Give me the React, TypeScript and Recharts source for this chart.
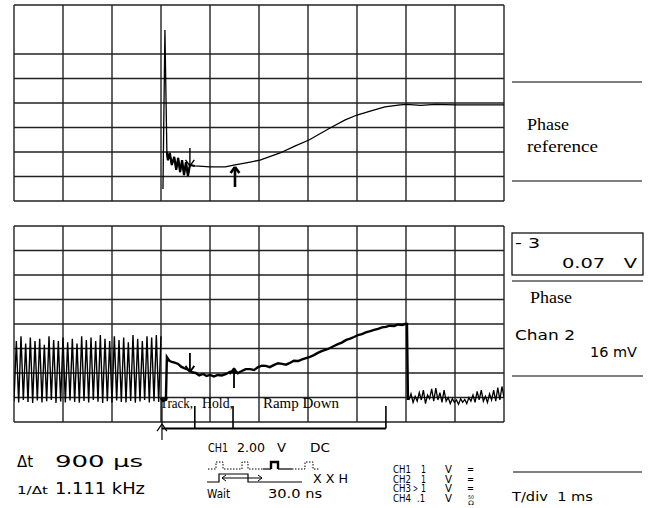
import { CartesianGrid, Line, LineChart, ReferenceLine, XAxis, YAxis } from 'recharts';

// time axis in divisions (0..10), amplitude in divisions (0..8)
const divX = [0, 1, 2, 3, 4, 5, 6, 7, 8, 9, 10];
const divY = [0, 1, 2, 3, 4, 5, 6, 7, 8];

// upper trace (phase reference)
const topT = [3.04, 3.08, 3.12, 3.14, 3.18, 3.22, 3.27, 3.31, 3.35, 3.39, 3.43, 3.47, 3.51, 3.55, 3.59, 3.69, 4.0, 4.31, 4.51, 4.82, 5.02, 5.43, 5.73, 6.02, 6.45, 6.76, 7.0, 7.27, 7.57, 7.88, 8.02, 8.3, 8.6, 9.0, 9.5, 10];
const topV = [0.49, 6.98, 2.0, 1.67, 1.96, 1.47, 1.8, 1.27, 1.76, 1.18, 1.67, 1.06, 1.59, 1.02, 1.47, 1.43, 1.39, 1.39, 1.47, 1.59, 1.67, 1.96, 2.24, 2.49, 2.98, 3.31, 3.51, 3.67, 3.84, 3.92, 3.94, 3.9, 3.94, 3.92, 3.92, 3.92];

// lower trace: oscillation before track
const sawHigh = [3.3, 3.5, 3.2, 3.45, 3.3, 3.4, 3.15, 3.5, 3.35, 3.3, 3.45, 3.25, 3.4, 3.2, 3.5, 3.35, 3.45, 3.3, 3.55, 3.4, 3.3, 3.5, 3.35, 3.45, 3.25, 3.55, 3.4, 3.3, 3.5, 3.45, 3.55, 3.5];
const sawLow = [0.85, 0.8, 0.9, 0.82, 0.78, 0.88, 0.8, 0.85, 0.9, 0.78, 0.84, 0.8, 0.88, 0.82, 0.79, 0.86, 0.8, 0.9, 0.83, 0.78, 0.85, 0.8, 0.88, 0.82, 0.8, 0.86, 0.79, 0.84, 0.9, 0.8, 0.85, 0.82];
const sawEnd = 3.0;

// lower trace: track / hold / ramp
const rampT = [3.0, 3.04, 3.1, 3.12, 3.17, 3.22, 3.28, 3.35, 3.41, 3.47, 3.53, 3.59, 3.65, 3.71, 3.78, 3.86, 3.93, 4.0, 4.08, 4.16, 4.24, 4.33, 4.41, 4.49, 4.57, 4.65, 4.73, 4.82, 4.9, 4.98, 5.06, 5.14, 5.22, 5.31, 5.39, 5.47, 5.55, 5.63, 5.71, 5.8, 5.88, 5.96, 6.04, 6.12, 6.2, 6.29, 6.37, 6.45, 6.53, 6.61, 6.69, 6.78, 6.86, 6.94, 7.02, 7.1, 7.18, 7.27, 7.35, 7.43, 7.51, 7.59, 7.67, 7.76, 7.84, 7.92, 7.98, 8.02, 8.04];
const rampV = [0.98, 0.86, 0.9, 2.65, 2.5, 2.45, 2.42, 2.37, 2.26, 2.2, 2.16, 2.08, 2.02, 2.0, 1.9, 1.96, 1.88, 1.92, 1.86, 1.92, 1.9, 1.96, 2.05, 2.04, 2.0, 2.08, 2.16, 2.16, 2.12, 2.24, 2.3, 2.29, 2.24, 2.33, 2.4, 2.37, 2.34, 2.41, 2.5, 2.49, 2.56, 2.61, 2.66, 2.73, 2.82, 2.9, 2.95, 3.02, 3.1, 3.18, 3.24, 3.35, 3.4, 3.47, 3.55, 3.59, 3.66, 3.71, 3.76, 3.8, 3.86, 3.88, 3.93, 3.92, 3.98, 3.96, 4.0, 4.0, 0.9];

// lower trace: noise after ramp down
const tailV = [0.9, 1.15, 0.8, 1.05, 0.85, 1.2, 0.9, 1.3, 0.75, 1.1, 0.95, 1.35, 0.85, 1.38, 0.9, 1.2, 0.8, 1.3, 0.85, 1.0, 0.75, 0.95, 0.8, 0.9, 0.72, 0.95, 0.8, 0.92, 0.75, 1.0, 0.85, 1.1, 0.8, 1.25, 0.9, 1.3, 0.85, 1.05, 0.8, 1.15, 0.9, 1.3, 0.85, 1.4, 0.9, 1.45, 1.0];
const tailStart = 8.06;

// markers: [time, from, to]
const topMarks = [[3.59, 2.16, 1.43], [4.51, 0.57, 1.39]];
const lowMarks = [[3.59, 2.82, 2.04], [4.49, 1.39, 2.2]];
// bracket ticks under the lower screen
const bracketT = [3.69, 4.47, 7.59];
const bracketStart = 3.02;

const chRows = [
    { ch: 'CH1', sel: '', val: '1', cpl: '=' },
    { ch: 'CH2', sel: '', val: '1', cpl: '=' },
    { ch: 'CH3', sel: '>', val: '1', cpl: '=' },
    { ch: 'CH4', sel: '', val: '.1', cpl: '' },
];

const topData = topT.map((t, i) => ({ t, v: topV[i] }));
const topNoise = topData.slice(2, 16);
const sawData = sawHigh.flatMap((h, i) => [sawLow[i], h]).map((v, i, arr) => ({ t: (i * sawEnd) / (arr.length - 1), v }));
const rampData = rampT.map((t, i) => ({ t, v: rampV[i] }));
const tailData = tailV.map((v, i) => ({ t: tailStart + (i * (10 - tailStart)) / (tailV.length - 1), v }));

const sans = '"DejaVu Sans", sans-serif';
const serif = '"Liberation Serif", "Times New Roman", serif';
const ink = '#000';

const seg = (x1: number, y1: number, x2: number, y2: number, w: number, key: string) => (
    <ReferenceLine key={key} segment={[{ x: x1, y: y1 }, { x: x2, y: y2 }]} stroke={ink} strokeWidth={w} ifOverflow="visible" />
);

const arrow = (m: number[], w: number, key: string) => {
    const [t, from, to] = m;
    const dir = to > from ? -1 : 1;
    return [
        seg(t, from, t, to, w, key + 's'),
        seg(t - 0.09, to + dir * 0.25, t, to, w, key + 'a'),
        seg(t + 0.09, to + dir * 0.25, t, to, w, key + 'b'),
    ];
};

// scope-style label squeezed to the width it has on screen
const T = ({ x, y, w, s, children }: { x: number; y: number; w: number; s: number; children: any }) => (
    <text x={x} y={y} fontSize={s} textLength={w} lengthAdjust="spacingAndGlyphs" style={{ whiteSpace: 'pre' }}>
        {children}
    </text>
);

const Screen = ({ top, children }: { top: number; children: any }) => (
    <LineChart width={648} height={508} margin={{ top, left: 14, right: 144, bottom: 508 - top - 196 }} style={{ position: 'absolute', left: 0, top: 0 }}>
        <XAxis type="number" dataKey="t" domain={[0, 10]} ticks={divX} allowDataOverflow hide />
        <YAxis type="number" dataKey="v" domain={[0, 8]} ticks={divY} allowDataOverflow hide />
        <CartesianGrid stroke="#222" strokeWidth={1.4} />
        {children}
    </LineChart>
);

export default function App() {
    return (
        <div style={{ position: 'absolute', left: 0, top: 0, width: 648, height: 508, background: '#fff' }}>
            <Screen top={5}>
                <Line data={topData} dataKey="v" stroke={ink} strokeWidth={1.3} dot={false} isAnimationActive={false} />
                <Line data={topNoise} dataKey="v" stroke={ink} strokeWidth={2.2} dot={false} isAnimationActive={false} />
                {arrow(topMarks[0], 1.4, 'tm0')}
                {arrow(topMarks[1], 2.6, 'tm1')}
            </Screen>
            <Screen top={226}>
                <Line data={sawData} dataKey="v" stroke={ink} strokeWidth={1.4} dot={false} isAnimationActive={false} />
                <Line data={rampData} dataKey="v" stroke={ink} strokeWidth={2.4} dot={false} isAnimationActive={false} />
                <Line data={tailData} dataKey="v" stroke={ink} strokeWidth={1.3} dot={false} isAnimationActive={false} />
                {arrow(lowMarks[0], 1.8, 'lm0')}
                {arrow(lowMarks[1], 1.8, 'lm1')}
                {seg(bracketStart, 0.98, bracketStart, -0.73, 1.2, 'bv')}
                {seg(bracketStart - 0.1, -0.37, bracketStart, -0.08, 1.2, 'ba1')}
                {seg(bracketStart + 0.1, -0.37, bracketStart, -0.08, 1.2, 'ba2')}
                {seg(bracketStart, -0.27, bracketT[2], -0.27, 2, 'bh')}
                {bracketT.map((t, i) => seg(t, 0.65, t, -0.27, 1.6, 'bt' + i))}
            </Screen>
            <svg width={648} height={508} style={{ position: 'absolute', left: 0, top: 0 }}>
                <g stroke={ink} strokeWidth={1.2}>
                    <line x1={512} y1={82} x2={642} y2={82} />
                    <line x1={512} y1={181} x2={642} y2={181} />
                    <rect x={512} y={233} width={131} height={42} fill="none" />
                    <line x1={512} y1={281} x2={643} y2={281} />
                    <line x1={512} y1={376} x2={643} y2={376} />
                    <line x1={513} y1={472} x2={642} y2={472} />
                </g>
                <g fontFamily={serif} fill={ink}>
                    <T x={527} y={130} w={42} s={17}>Phase</T>
                    <T x={527} y={152} w={71} s={17}>reference</T>
                    <T x={530} y={303} w={42} s={17}>Phase</T>
                    <T x={160} y={408} w={33} s={15}>Track,</T>
                    <T x={202} y={408} w={31} s={15}>Hold,</T>
                    <T x={263} y={408} w={76} s={15}>Ramp Down</T>
                </g>
                <g fontFamily={sans} fill={ink}>
                    <T x={515} y={248} w={25} s={14}>- 3</T>
                    <T x={562} y={268} w={75} s={14}>0.07   V</T>
                    <T x={515} y={340} w={60} s={14}>Chan 2</T>
                    <T x={590} y={357} w={47} s={14}>16 mV</T>
                    <T x={17} y={467} w={16} s={16}>Δt</T>
                    <T x={55} y={467} w={88} s={16}>900 µs</T>
                    <T x={17} y={494} w={31} s={11}>1/Δt</T>
                    <T x={55} y={494} w={90} s={16}>1.111 kHz</T>
                    <T x={208} y={452} w={20} s={12}>CH1</T>
                    <T x={237} y={452} w={28} s={12}>2.00</T>
                    <T x={277} y={452} w={9} s={12}>V</T>
                    <T x={310} y={452} w={20} s={12}>DC</T>
                    <T x={313} y={483} w={35} s={12}>X X H</T>
                    <T x={207} y={498} w={23} s={12}>Wait</T>
                    <T x={268} y={498} w={54} s={12}>30.0 ns</T>
                    <T x={512} y={501} w={81} s={12}>T/div  1 ms</T>
                    {chRows.map((r, i) => {
                        const y = 473 + i * 9.5;
                        return (
                            <g key={r.ch}>
                                <T x={393} y={y} w={18} s={10}>{r.ch}</T>
                                {r.sel ? <T x={413} y={y} w={5} s={10}>{r.sel}</T> : null}
                                <T x={r.val.length > 1 ? 417 : 421} y={y} w={r.val.length > 1 ? 8 : 5} s={10}>{r.val}</T>
                                <T x={445} y={y} w={7} s={10}>V</T>
                                {r.cpl ? <T x={467} y={y} w={7} s={10}>{r.cpl}</T> : null}
                            </g>
                        );
                    })}
                    <T x={468} y={499} w={6} s={5}>50</T>
                    <T x={468} y={505} w={6} s={6}>Ω</T>
                </g>
                <g fill="none" stroke={ink}>
                    <polyline points="208,469 216,469 216,462 223,462 223,469 242,469 242,462 248,462 248,469 263,469" strokeWidth={1} strokeDasharray="1.5 1.5" />
                    <polyline points="263,469 271,469" strokeWidth={1.2} />
                    <polyline points="271,469 271,462 278,462 278,469" strokeWidth={2.4} />
                    <polyline points="278,469 292,469" strokeWidth={1.2} />
                    <polyline points="292,469 305,469 305,462 313,462 313,469 320,469" strokeWidth={1} strokeDasharray="1.5 1.5" />
                    <polyline points="207,482 219,482 219,474 248,474 248,482 302,482" strokeWidth={1.2} />
                    <polyline points="222,478 262,478" strokeWidth={1} />
                    <polyline points="226,475 222,478 226,481" strokeWidth={1} />
                    <polyline points="258,475 262,478 258,481" strokeWidth={1} />
                </g>
            </svg>
        </div>
    );
}
